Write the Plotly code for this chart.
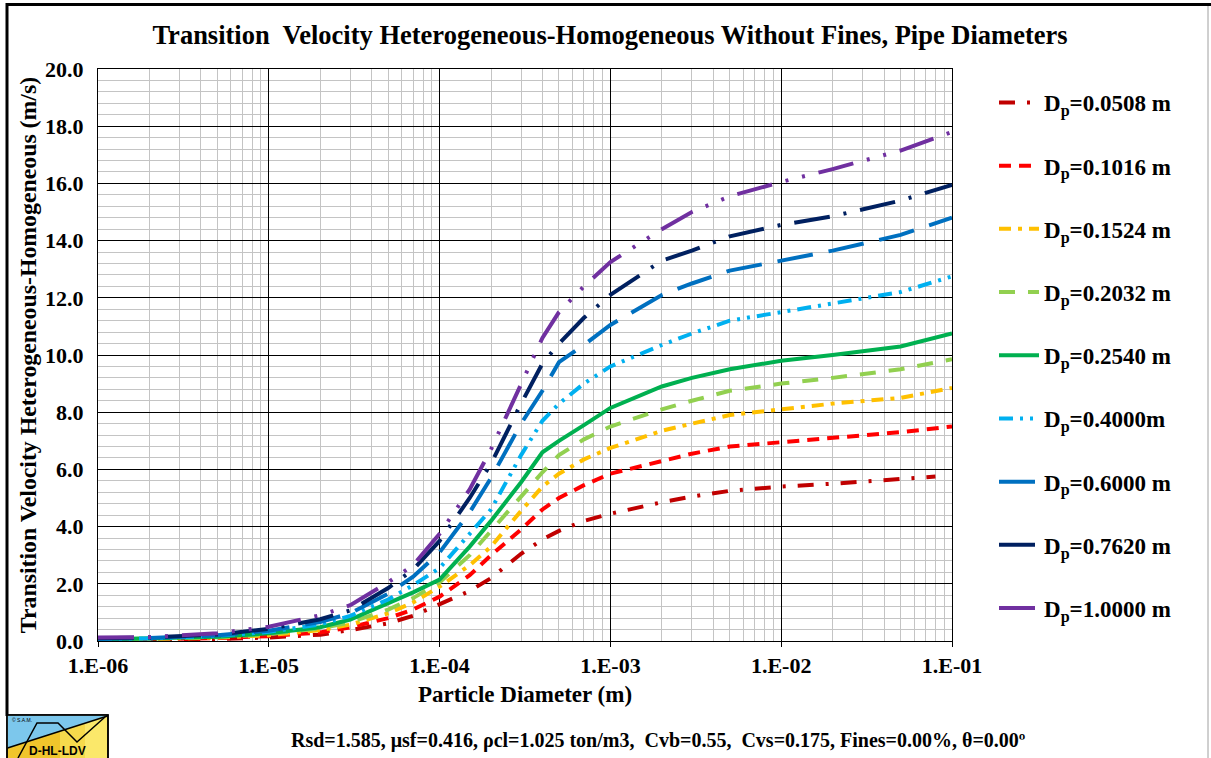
import plotly.graph_objects as go

# ---------------- data ----------------
particle_d = [1e-6, 2e-6, 5e-6, 1e-5, 2e-5, 3e-5, 5e-5, 7e-5, 1e-4, 1.5e-4, 2e-4, 3e-4, 4e-4,
              5e-4, 7e-4, 1e-3, 2e-3, 3e-3, 5e-3, 1e-2, 2e-2, 5e-2, 1e-1]
particle_d_0508 = particle_d[:-1] + [8e-2]

v_0508 = [0.02, 0.03, 0.07, 0.12, 0.22, 0.38, 0.62, 0.88, 1.3, 1.75, 2.2, 3.05, 3.55, 3.85, 4.2,
          4.45, 4.85, 5.05, 5.25, 5.4, 5.5, 5.65, 5.75]
v_1016 = [0.03, 0.05, 0.1, 0.17, 0.3, 0.48, 0.8, 1.1, 1.55, 2.3, 3.0, 3.9, 4.6, 5.0, 5.45,
          5.85, 6.3, 6.55, 6.8, 6.95, 7.1, 7.3, 7.5]
v_1524 = [0.04, 0.06, 0.12, 0.2, 0.38, 0.57, 0.97, 1.35, 1.9, 2.65, 3.3, 4.55, 5.4, 5.85, 6.35,
          6.75, 7.35, 7.6, 7.9, 8.1, 8.3, 8.5, 8.85]
v_2032 = [0.05, 0.07, 0.13, 0.24, 0.44, 0.65, 1.1, 1.5, 2.05, 3.0, 3.85, 5.0, 5.9, 6.5, 7.05,
          7.5, 8.1, 8.4, 8.75, 9.0, 9.2, 9.5, 9.85]
v_2540 = [0.05, 0.08, 0.15, 0.27, 0.48, 0.75, 1.3, 1.7, 2.15, 3.3, 4.2, 5.55, 6.6, 7.0, 7.55,
          8.15, 8.9, 9.2, 9.5, 9.8, 10.0, 10.3, 10.75]
v_4000 = [0.07, 0.09, 0.18, 0.32, 0.58, 0.88, 1.45, 1.95, 2.55, 3.75, 4.6, 6.5, 7.7, 8.3, 9.0,
          9.6, 10.35, 10.75, 11.2, 11.5, 11.8, 12.2, 12.75]
v_6000 = [0.08, 0.1, 0.2, 0.36, 0.66, 0.97, 1.65, 2.25, 3.1, 4.5, 5.7, 7.6, 8.75, 9.75, 10.35,
          11.05, 12.1, 12.5, 12.95, 13.3, 13.65, 14.2, 14.8]
v_7620 = [0.1, 0.12, 0.23, 0.42, 0.76, 1.07, 1.85, 2.5, 3.5, 5.0, 6.2, 8.3, 9.7, 10.4, 11.3,
          12.1, 13.3, 13.65, 14.15, 14.55, 14.85, 15.4, 15.95]
v_10000 = [0.12, 0.14, 0.27, 0.5, 0.9, 1.25, 2.05, 2.65, 3.75, 5.3, 6.7, 9.0, 10.6, 11.5, 12.4,
           13.25, 14.4, 15.0, 15.55, 16.05, 16.5, 17.15, 17.8]

series_names = ["D<sub>p</sub>=0.0508 m", "D<sub>p</sub>=0.1016 m", "D<sub>p</sub>=0.1524 m",
                "D<sub>p</sub>=0.2032 m", "D<sub>p</sub>=0.2540 m", "D<sub>p</sub>=0.4000m",
                "D<sub>p</sub>=0.6000 m", "D<sub>p</sub>=0.7620 m", "D<sub>p</sub>=1.0000 m"]
series_x = [particle_d_0508] + [particle_d] * 8
series_y = [v_0508, v_1016, v_1524, v_2032, v_2540, v_4000, v_6000, v_7620, v_10000]

x_tick_vals = [1e-6, 1e-5, 1e-4, 1e-3, 1e-2, 1e-1]
x_tick_text = ["1.E-06", "1.E-05", "1.E-04", "1.E-03", "1.E-02", "1.E-01"]

# ---------------- styles ----------------
colors = ["#C00000", "#FF0000", "#FFC000", "#92D050", "#00B050", "#00B0F0", "#0070C0", "#002060", "#7030A0"]
dashes = ["16px,12px,3px,12px", "12px,8px", "12px,7px,4px,7px", "16px,13px", "solid",
          "14px,7px,3px,7px,3px,7px", "36px,16px", "36px,14px,3px,14px", "36px,14px,3px,14px,3px,14px"]

SERIF = "Liberation Serif"

fig = go.Figure()
for name, xs, ys, c, d in zip(series_names, series_x, series_y, colors, dashes):
    fig.add_trace(go.Scatter(x=xs, y=ys, mode="lines", name=name, legendgroup=name,
                             line=dict(color=c, width=4, dash=d)))

L, R, T, B = 98, 952, 69, 641
W, H = 1211, 758


def px(xp):
    return (xp - L) / (R - L)


def py(yp):
    return (B - yp) / (B - T)


shapes = [
    # outer frame
    dict(type="line", xref="paper", yref="paper", x0=px(6), x1=px(1211), y0=py(4.5), y1=py(4.5),
         line=dict(color="black", width=3)),
    dict(type="line", xref="paper", yref="paper", x0=px(7), x1=px(7), y0=py(3), y1=py(716),
         line=dict(color="black", width=3)),
    dict(type="line", xref="paper", yref="paper", x0=px(1208), x1=px(1208), y0=py(6), y1=py(758),
         line=dict(color="#A0A0A0", width=1)),
    # logo
    dict(type="rect", xref="paper", yref="paper", x0=px(7), x1=px(108), y0=py(715), y1=py(760),
         fillcolor="#F0C52C", line=dict(color="black", width=1.5)),
    dict(type="rect", xref="paper", yref="paper", x0=px(60), x1=px(107), y0=py(716), y1=py(759),
         fillcolor="#F6DA4C", line=dict(width=0)),
    dict(type="rect", xref="paper", yref="paper", x0=px(85), x1=px(107), y0=py(716), y1=py(759),
         fillcolor="#FBE86A", line=dict(width=0)),
    dict(type="path", xref="paper", yref="paper",
         path=f"M {px(7.5)},{py(715.5)} L {px(107.5)},{py(715.5)} L {px(7.5)},{py(748)} Z",
         fillcolor="#7CC7EC", line=dict(width=0)),
    dict(type="path", xref="paper", yref="paper",
         path=f"M {px(7.5)},{py(748)} L {px(107.5)},{py(716)}",
         line=dict(color="black", width=1.5)),
    dict(type="path", xref="paper", yref="paper",
         path=f"M {px(18)},{py(758)} L {px(37)},{py(723)} L {px(58)},{py(723)} L {px(77)},{py(742)} L {px(105)},{py(717)}",
         line=dict(color="black", width=1.5)),
    dict(type="rect", xref="paper", yref="paper", x0=px(7), x1=px(108), y0=py(715), y1=py(760),
         fillcolor="rgba(0,0,0,0)", line=dict(color="black", width=1.5)),
]

annotations = [
    dict(text="<b>D-HL-LDV</b>", xref="paper", yref="paper", x=px(57), y=py(751), showarrow=False,
         font=dict(family="Liberation Sans", size=12, color="black"), xanchor="center", yanchor="middle"),
    dict(text="© S.A.M.", xref="paper", yref="paper", x=px(10), y=py(720), showarrow=False,
         font=dict(family="Liberation Sans", size=5, color="black"), xanchor="left", yanchor="middle"),
    dict(text="Rsd=1.585, μsf=0.416, ρcl=1.025 ton/m3,  Cvb=0.55,  Cvs=0.175, Fines=0.00%, θ=0.00º",
         xref="paper", yref="paper", x=px(658), y=py(740), showarrow=False,
         font=dict(family=SERIF, size=20, color="black", weight="bold"), xanchor="center", yanchor="middle"),
]

fig.update_layout(
    width=W, height=H,
    margin=dict(l=L, r=W - R, t=T, b=H - B, pad=0),
    paper_bgcolor="white", plot_bgcolor="white",
    title=dict(text="Transition  Velocity Heterogeneous-Homogeneous Without Fines, Pipe Diameters",
               x=(152 + 1068) / 2 / W, xanchor="center", y=1 - 35 / H, yanchor="middle",
               font=dict(family=SERIF, size=26.5, color="black", weight="bold")),
    font=dict(family=SERIF, color="black"),
    showlegend=True,
    legend=dict(x=px(994), xanchor="left", y=py(81), yanchor="top",
                font=dict(family=SERIF, size=23, color="black", weight="bold"),
                tracegroupgap=30.3, itemwidth=40, bgcolor="rgba(0,0,0,0)", borderwidth=0,
                traceorder="grouped"),
    shapes=shapes, annotations=annotations,
)

fig.update_xaxes(
    type="log", range=[-6, -1], tickvals=x_tick_vals, ticktext=x_tick_text,
    showgrid=True, gridcolor="black", gridwidth=1,
    minor=dict(dtick="D1", showgrid=True, gridcolor="#C4C4C4", gridwidth=1, ticks=""),
    showline=True, linecolor="black", linewidth=1, mirror=True,
    ticks="outside", ticklen=5, tickcolor="black", ticklabelstandoff=0,
    tickfont=dict(family=SERIF, size=22, color="black", weight="bold"),
    title=dict(text="Particle Diameter (m)", standoff=8,
               font=dict(family=SERIF, size=23, color="black", weight="bold")),
    zeroline=False,
)
fig.update_yaxes(
    range=[0, 20], dtick=2, tickformat=".1f",
    showgrid=True, gridcolor="black", gridwidth=1,
    minor=dict(dtick=0.4, showgrid=True, gridcolor="#C4C4C4", gridwidth=1, ticks=""),
    showline=True, linecolor="black", linewidth=1, mirror=True,
    ticks="", ticklabelstandoff=9,
    tickfont=dict(family=SERIF, size=22, color="black", weight="bold"),
    title=dict(text="Transition Velocity Heterogeneous-Homogeneous (m/s)", standoff=1,
               font=dict(family=SERIF, size=23.8, color="black", weight="bold")),
    zeroline=False,
)

fig.write_html("out.html", config={"displayModeBar": False},
               post_script="document.body.style.margin='0';document.body.style.padding='0';")
